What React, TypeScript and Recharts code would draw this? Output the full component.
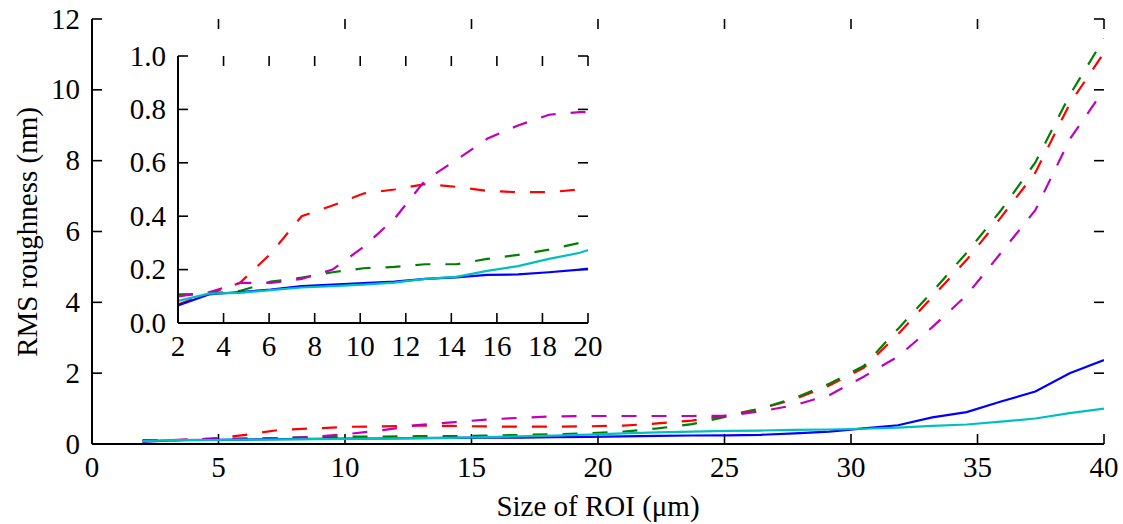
import { LineChart, Line, XAxis, YAxis, ReferenceLine } from 'recharts'

// ROI sizes (µm)
const roi = [
  2, 3.357, 4.714, 6.071, 7.429, 8.786, 10.143, 11.5, 12.857, 14.214, 15.571, 16.929, 18.286, 19.643, 21,
  22.357, 23.714, 25.071, 26.429, 27.786, 29.143, 30.5, 31.857, 33.214, 34.571, 35.929, 37.286, 38.643, 40,
]

// RMS roughness (nm) per series
const blueSolid = [
  0.066, 0.107, 0.116, 0.125, 0.138, 0.144, 0.149, 0.155, 0.165, 0.171, 0.18, 0.182, 0.19, 0.2, 0.215,
  0.23, 0.24, 0.245, 0.26, 0.3, 0.35, 0.44, 0.53, 0.75, 0.9, 1.2, 1.48, 2.0, 2.37,
]
const cyanSolid = [
  0.083, 0.11, 0.113, 0.123, 0.133, 0.138, 0.144, 0.151, 0.165, 0.173, 0.195, 0.213, 0.24, 0.263, 0.3,
  0.33, 0.35, 0.37, 0.38, 0.4, 0.41, 0.43, 0.46, 0.51, 0.55, 0.63, 0.72, 0.87, 1.0,
]
const greenDashed = [
  0.107, 0.11, 0.12, 0.155, 0.17, 0.19, 0.205, 0.21, 0.22, 0.22, 0.24, 0.255, 0.275, 0.3, 0.35,
  0.44, 0.56, 0.77, 1.0, 1.3, 1.7, 2.2, 3.25, 4.3, 5.4, 6.6, 7.95, 9.85, 11.45,
]
const redDashed = [
  0.07, 0.11, 0.15, 0.26, 0.4, 0.44, 0.485, 0.5, 0.52, 0.51, 0.495, 0.49, 0.49, 0.5, 0.52,
  0.58, 0.66, 0.8, 1.0, 1.27, 1.65, 2.15, 3.1, 4.15, 5.2, 6.4, 7.66, 9.6, 11.05,
]
const magentaDashed = [
  0.1, 0.115, 0.15, 0.15, 0.165, 0.2, 0.285, 0.39, 0.535, 0.61, 0.69, 0.74, 0.78, 0.79, 0.79,
  0.79, 0.79, 0.8, 0.92, 1.1, 1.38, 1.9, 2.47, 3.3, 4.2, 5.4, 6.6, 8.6, 10.0,
]

const mainXTicks = [0, 5, 10, 15, 20, 25, 30, 35, 40]
const mainYTicks = [0, 2, 4, 6, 8, 10, 12]
const insetXTicks = [2, 4, 6, 8, 10, 12, 14, 16, 18, 20]
const insetYTicks = [0, 0.2, 0.4, 0.6, 0.8, 1.0]

const data = roi.map((x, i) => ({
  x,
  r: redDashed[i],
  g: greenDashed[i],
  m: magentaDashed[i],
  b: blueSolid[i],
  c: cyanSolid[i],
}))

const FONT = '"Liberation Serif", "Times New Roman", serif'
const FS = 29
const axisLine = { stroke: '#000', strokeWidth: 2 }
const DASH = '15 15'
const LW = 2.2
const TICK_PX = 10

const plain = (v: number) => String(v)
const oneDec = (v: number) => v.toFixed(1)

// tick labels only; the inward tick marks are drawn as reference segments
function makeLabel(side: 'bottom' | 'left', fmt: (v: number) => string) {
  return (props: any) => {
    const { x, y, payload } = props
    const label = fmt(payload.value as number)
    return side === 'bottom' ? (
      <text x={x} y={y + 33} textAnchor='middle' fill='#000' fontSize={FS} fontFamily={FONT}>{label}</text>
    ) : (
      <text x={x - 12} y={y + 9.5} textAnchor='end' fill='#000' fontSize={FS} fontFamily={FONT}>{label}</text>
    )
  }
}

function Series() {
  return [
    <Line key='r' dataKey='r' stroke='#ff0000' strokeWidth={LW} strokeDasharray={DASH} dot={false} isAnimationActive={false} />,
    <Line key='g' dataKey='g' stroke='#008000' strokeWidth={LW} strokeDasharray={DASH} dot={false} isAnimationActive={false} />,
    <Line key='m' dataKey='m' stroke='#bf00bf' strokeWidth={LW} strokeDasharray={DASH} dot={false} isAnimationActive={false} />,
    <Line key='b' dataKey='b' stroke='#0000ff' strokeWidth={LW} dot={false} isAnimationActive={false} />,
    <Line key='c' dataKey='c' stroke='#00bfbf' strokeWidth={LW} dot={false} isAnimationActive={false} />,
  ]
}

type FrameProps = {
  xd: [number, number]
  yd: [number, number]
  xt: number[]
  yt: number[]
  yFmt: (v: number) => string
  xh: number
  yw: number
  plotW: number
  plotH: number
}

function Frame({ xd, yd, xt, yt, yFmt, xh, yw, plotW, plotH }: FrameProps) {
  // tick length in data units, so the marks are 10px long
  const dx = ((xd[1] - xd[0]) * TICK_PX) / plotW
  const dy = ((yd[1] - yd[0]) * TICK_PX) / plotH
  const tickProps = { stroke: '#000', strokeWidth: 1.6, ifOverflow: 'visible' as const }
  return [
    <XAxis key='xb' dataKey='x' type='number' domain={xd} allowDataOverflow ticks={xt} height={xh}
      tick={makeLabel('bottom', plain)} tickSize={0} tickMargin={0} tickLine={false} axisLine={axisLine} interval={0} />,
    <XAxis key='xt' xAxisId='top' orientation='top' type='number' domain={xd} ticks={xt} height={0}
      tick={false} tickLine={false} axisLine={axisLine} />,
    <YAxis key='yl' type='number' domain={yd} allowDataOverflow ticks={yt} width={yw}
      tick={makeLabel('left', yFmt)} tickSize={0} tickMargin={0} tickLine={false} axisLine={axisLine} interval={0} />,
    <YAxis key='yr' yAxisId='right' orientation='right' type='number' domain={yd} ticks={yt} width={0}
      tick={false} tickLine={false} axisLine={axisLine} />,
    ...xt.flatMap((t) => [
      <ReferenceLine key={`tb${t}`} segment={[{ x: t, y: yd[0] }, { x: t, y: yd[0] + dy }]} {...tickProps} />,
      <ReferenceLine key={`tt${t}`} segment={[{ x: t, y: yd[1] }, { x: t, y: yd[1] - dy }]} {...tickProps} />,
    ]),
    ...yt.flatMap((t) => [
      <ReferenceLine key={`tl${t}`} segment={[{ x: xd[0], y: t }, { x: xd[0] + dx, y: t }]} {...tickProps} />,
      <ReferenceLine key={`tr${t}`} segment={[{ x: xd[1], y: t }, { x: xd[1] - dx, y: t }]} {...tickProps} />,
    ]),
  ]
}

export default function App() {
  return (
    <div style={{ position: 'absolute', left: 0, top: 0, width: 1123, height: 524, background: '#fff' }}>
      <div style={{ position: 'absolute', left: 0, top: 0 }}>
        <LineChart width={1123} height={524} data={data} margin={{ top: 19, right: 19, bottom: 0, left: 0 }}>
          {Frame({ xd: [0, 40], yd: [0, 12], xt: mainXTicks, yt: mainYTicks, yFmt: plain, xh: 80, yw: 92, plotW: 1012, plotH: 425 })}
          {Series()}
          <text x={598} y={516} textAnchor='middle' fill='#000' fontSize={FS} fontFamily={FONT}>Size of ROI (μm)</text>
          <text x={37} y={232} transform='rotate(-90 37 232)' textAnchor='middle' fill='#000' fontSize={FS} fontFamily={FONT}>RMS roughness (nm)</text>
        </LineChart>
      </div>

      {/* inset: zoom on 2-20 µm */}
      <div style={{ position: 'absolute', left: 118, top: 36 }}>
        <LineChart width={500} height={330} data={data} margin={{ top: 20, right: 30, bottom: 0, left: 0 }}>
          {Frame({ xd: [2, 20], yd: [0, 1], xt: insetXTicks, yt: insetYTicks, yFmt: oneDec, xh: 43, yw: 60, plotW: 410, plotH: 267 })}
          {Series()}
        </LineChart>
      </div>
    </div>
  )
}
